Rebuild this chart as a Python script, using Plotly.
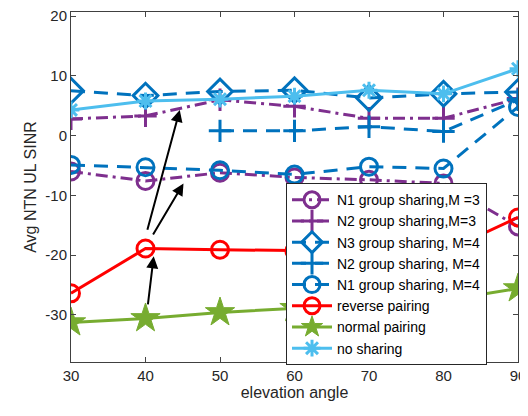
import plotly.graph_objects as go

elev = [30, 40, 50, 60, 70, 80, 90]
n1_m3 = [-6.0, -7.6, -6.2, -7.0, -7.4, -8.0, -15.2]
n2_m3 = [2.8, 3.3, 6.0, 4.9, 2.9, 2.9, 6.2]
n3_m4 = [7.5, 6.7, 7.4, 7.6, 6.3, 7.0, 7.3]
n2_m4 = [None, None, 0.8, 0.8, 1.5, 0.7, 6.0]
n1_m4 = [-4.9, -5.3, -5.8, -6.5, -5.2, -5.5, 4.8]
reverse = [-26.4, -18.9, -19.1, -19.3, -19.4, -19.5, -13.7]
normal = [-31.3, -30.6, -29.6, -28.9, -28.2, -27.6, -25.6]
nosharing = [4.3, 5.8, 6.1, 6.6, 7.6, 7.0, 11.2]

yticks = [20, 10, 0, -10, -20, -30]
ytext = ["20", "10", "0", "-10", "-20", "-30"]
xticks = [30, 40, 50, 60, 70, 80, 90]

BLUE = "#0072BD"
PURPLE = "#7E2F8E"
RED = "#FF0000"
GREEN = "#77AC30"
LBLUE = "#4DBEEE"

fig = go.Figure()

def add(name, y, color, dash, symbol, size, mlw=3, lw=3):
    fig.add_trace(go.Scatter(
        x=elev, y=y, name=name, mode="lines+markers",
        line=dict(color=color, width=lw, dash=dash),
        marker=dict(symbol=symbol, size=size, color=color,
                    line=dict(color=color, width=mlw)),
        connectgaps=False,
    ))

add("N1 group sharing,M =3", n1_m3, PURPLE, "12px,5px,3px,5px", "circle-open", 17)
add("N2 group sharing,M=3", n2_m3, PURPLE, "12px,5px,3px,5px", "cross-thin-open", 16)
add("N3 group sharing, M=4", n3_m4, BLUE, "14px,9px", "diamond-open", 19)
add("N2 group sharing, M=4", n2_m4, BLUE, "14px,9px", "cross-thin-open", 16)
add("N1 group sharing, M=4", n1_m4, BLUE, "14px,9px", "circle-open", 17)
add("reverse pairing", reverse, RED, "solid", "circle-open", 17)
add("normal pairing", normal, GREEN, "solid", "star", 22, mlw=1)
add("no sharing", nosharing, LBLUE, "solid", "asterisk-open", 14)

arrows = [
    ((40.2, -16.0), (44.6, 4.3)),
    ((40.9, -16.8), (45.1, -8.0)),
    ((40.3, -28.5), (41.1, -20.2)),
]
for (x0, y0), (x1, y1) in arrows:
    fig.add_annotation(x=x1, y=y1, ax=x0, ay=y0, xref="x", yref="y", axref="x", ayref="y",
                       showarrow=True, arrowhead=2, arrowsize=1.2, arrowwidth=2,
                       arrowcolor="black", text="")

# page has an 8px body margin, so the figure is sized to fit inside the window
fig.update_layout(
    width=520, height=400,
    margin=dict(l=63, r=10, t=4, b=46),
    paper_bgcolor="white", plot_bgcolor="white",
    font=dict(family="Liberation Sans, Arial", size=15, color="#262626"),
    showlegend=True,
    legend=dict(x=0.481, y=0.511, xanchor="left", yanchor="top",
                bgcolor="white", bordercolor="#262626", borderwidth=1,
                font=dict(size=14, color="#000000"), tracegroupgap=0,
                itemwidth=40),
)
fig.update_xaxes(range=[30, 90], tickvals=xticks, ticks="inside", ticklen=5,
                 showline=True, mirror="ticks", linecolor="#404040", linewidth=1,
                 showgrid=False, zeroline=False, ticklabeloverflow="allow",
                 title=dict(text="elevation angle", font=dict(size=16), standoff=0),
                 tickfont=dict(size=15), automargin=False)
fig.update_yaxes(range=[-37.9, 20.7], tickvals=yticks, ticktext=ytext, ticks="inside", ticklen=5,
                 showline=True, mirror="ticks", linecolor="#404040", linewidth=1,
                 showgrid=False, zeroline=False, ticklabeloverflow="allow",
                 title=dict(text="Avg NTN UL SINR", font=dict(size=16), standoff=4),
                 tickfont=dict(size=15), automargin=False)

fig.write_html("out.html")
